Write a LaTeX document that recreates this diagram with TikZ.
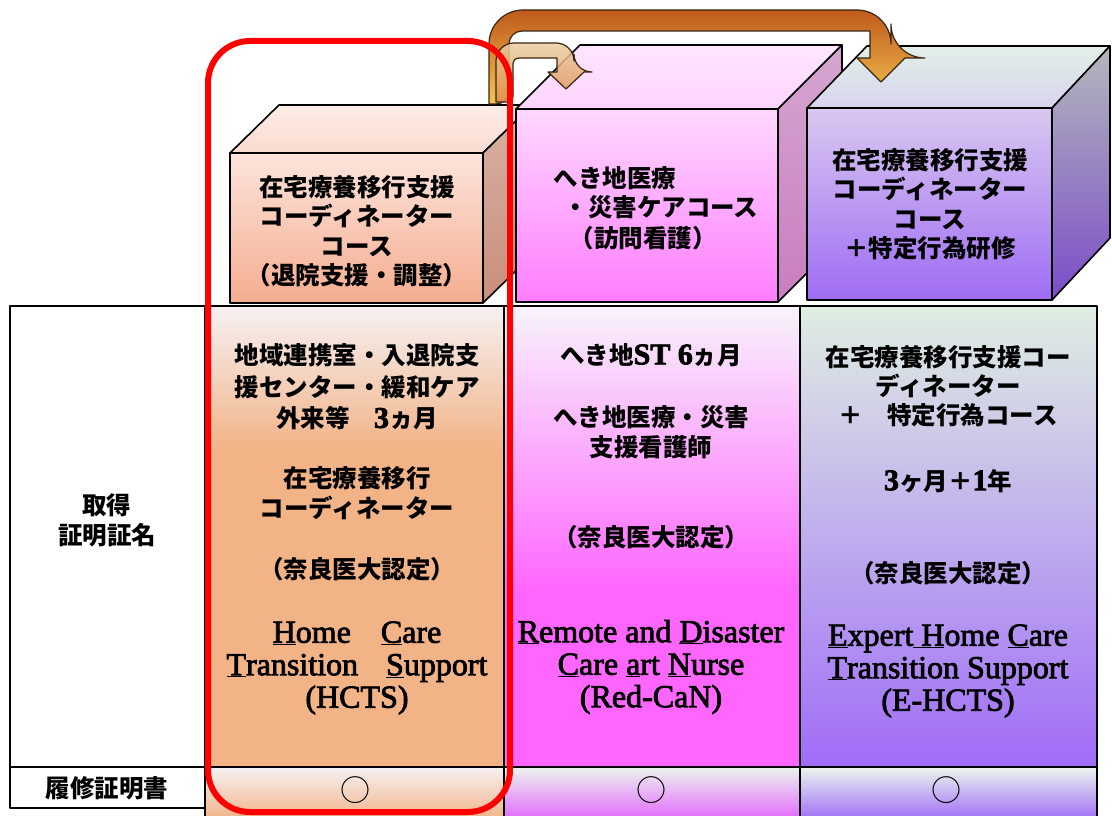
\documentclass[tikz,border=0pt]{standalone}
\usepackage{fontspec}
\setmainfont{Liberation Serif}
\newfontfamily\enfont{Liberation Serif}[FakeBold=2.5]
\newfontfamily\jp{Noto Sans CJK JP}
\newcommand\R[1]{{\enfont\fontsize{30}{30}\selectfont #1}}
\newcommand\myul[1]{\underline{#1}}
\definecolor{orgsolid}{HTML}{F2B387}
\definecolor{orgtop}{HTML}{F6F1F3}
\definecolor{pnksolid}{HTML}{FF66FF}
\definecolor{pnktop}{HTML}{F8F4FB}
\definecolor{purtop}{HTML}{DFEEE2}
\definecolor{purmid}{HTML}{C6A8F0}
\definecolor{purbot}{HTML}{A06CF8}
\definecolor{c1ft}{HTML}{FCE4DC}
\definecolor{c1fb}{HTML}{F5AD8F}
\definecolor{c1tt}{HTML}{FDEDE7}
\definecolor{c1tb}{HTML}{FADBD0}
\definecolor{c1rt}{HTML}{D8B2A6}
\definecolor{c1rb}{HTML}{C98E7A}
\definecolor{c2ft}{HTML}{FFD8FF}
\definecolor{c2fb}{HTML}{FF7DFF}
\definecolor{c2tt}{HTML}{FFE6FF}
\definecolor{c2tb}{HTML}{FFD4FF}
\definecolor{c2rt}{HTML}{D6A6D0}
\definecolor{c2rb}{HTML}{C87DC0}
\definecolor{c3ft}{HTML}{D9C8F0}
\definecolor{c3fb}{HTML}{9E6CF4}
\definecolor{c3tt}{HTML}{E2F0E8}
\definecolor{c3tb}{HTML}{D8D4EE}
\definecolor{c3rt}{HTML}{B4B8BC}
\definecolor{c3rb}{HTML}{7B4CC8}
\definecolor{arrdark}{HTML}{C05A1C}
\definecolor{arrmid}{HTML}{E0903E}
\definecolor{arrlight}{HTML}{F4C552}
\definecolor{sarrtop}{HTML}{EAD0A4}
\definecolor{sarrbot}{HTML}{E08A48}
\definecolor{redbox}{HTML}{FF0000}
\tikzset{
  edge/.style={draw=black, line width=1.6pt, line join=round},
  jptext/.style={align=center, inner sep=0pt, font=\jp\bfseries\fontsize{24.5}{29.5}\selectfont},
  jptab/.style={align=center, inner sep=0pt, font=\jp\bfseries\fontsize{24.5}{31}\selectfont},
  entext/.style={align=center, inner sep=0pt, font=\enfont\fontsize{32}{32.5}\selectfont},
  circ/.style={inner sep=0pt, font=\jp\fontsize{30}{30}\selectfont},
  arrowbig/.style={draw=black!70!brown, line width=1.2pt, line join=round, top color=arrdark, middle color=arrmid, bottom color=arrlight},
  arrowsmall/.style={draw=black!70!brown, line width=1.2pt, line join=round, top color=sarrtop, bottom color=sarrbot, fill opacity=0.85},
}
\begin{document}
\begin{tikzpicture}[x=1pt,y=-1pt]
\useasboundingbox (0,0) rectangle (1112,816);
\fill[white] (0,0) rectangle (1112,816);

% ---------- cube 1 (orange)
\path[edge, top color=c1tt, bottom color=c1tb] (230,153) -- (279,105) -- (532,105) -- (483,153) -- cycle;
\path[edge, top color=c1rt, bottom color=c1rb] (483,153) -- (532,105) -- (532,255) -- (483,303) -- cycle;
\path[edge, top color=c1ft, bottom color=c1fb] (230,153) rectangle (483,303);
% ---------- cube 2 (pink)
\path[edge, top color=c2tt, bottom color=c2tb] (516,109) -- (580,45) -- (842,45) -- (778,109) -- cycle;
\path[edge, top color=c2rt, bottom color=c2rb] (778,109) -- (842,45) -- (842,238) -- (778,302) -- cycle;
\path[edge, top color=c2ft, bottom color=c2fb] (516,109) rectangle (778,302);
% ---------- cube 3 (purple)
\path[edge, top color=c3tt, bottom color=c3tb] (807,108) -- (867,46) -- (1110,46) -- (1052,108) -- cycle;
\path[edge, top color=c3rt, bottom color=c3rb] (1052,108) -- (1110,46) -- (1110,238) -- (1052,300) -- cycle;
\path[edge, top color=c3ft, bottom color=c3fb] (807,108) rectangle (1052,300);

% ---------- table fills
\fill[top color=orgtop, bottom color=orgsolid] (205,306) rectangle (504,450);
\fill[orgsolid] (205,449) rectangle (504,767);
\fill[top color=pnktop, bottom color=pnksolid] (504,306) rectangle (800,590);
\fill[pnksolid] (504,589) rectangle (800,767);
\fill[top color=purtop, middle color=purmid, bottom color=purbot] (800,306) rectangle (1097,767);
\fill[top color=orgtop, middle color=orgsolid, bottom color=orgsolid] (205,767) rectangle (504,820);
\fill[top color=purtop!60!white, bottom color=pnksolid!70!purbot] (504,767) rectangle (800,820);
\fill[top color=purtop!60!white, bottom color=purbot] (800,767) rectangle (1097,820);
% ---------- table lines
\draw[edge] (10,306) rectangle (205,767);
\draw[edge] (10,767) rectangle (205,808);
\draw[edge] (205,306) rectangle (504,767);
\draw[edge] (504,306) rectangle (800,767);
\draw[edge] (800,306) rectangle (1097,767);
\draw[edge] (205,767) -- (205,820);
\draw[edge] (504,767) -- (504,820);
\draw[edge] (800,767) -- (800,820);
\draw[edge] (1097,767) -- (1097,820);

% ---------- arrows
\path[arrowbig] (489,104) [rounded corners=34pt] -- (489,10) -- (891,10) -- (891,58) [sharp corners] -- (905,58) -- (881,82) -- (857,58) -- (870,58) -- (870,31) [rounded corners=13pt] -- (509,31) -- (509,104) [sharp corners] -- cycle;
\path[arrowsmall] (496,102) [rounded corners=18pt] -- (496,43) -- (574,43) -- (574,72) [sharp corners] -- (584,72) -- (566,89) -- (548,72) -- (557,72) -- (557,58) [rounded corners=6pt] -- (513,58) -- (513,102) [sharp corners] -- cycle;

% ---------- cube texts
\node[jptext] (c1t) at (357,231) {在宅療養移行支援\\コーディネーター\\コース\\（退院支援・調整）};
\node[jptext] (c2a) at (615,178) {へき地医療};
\node[jptext] (c2b) at (661,207) {・災害ケアコース};
\node[jptext] (c2c) at (643,238) {（訪問看護）};
\node[jptext] (c3t) at (930,204) {在宅療養移行支援\\コーディネーター\\コース\\＋特定行為研修};

% ---------- left column
\node[jptext, font=\jp\bfseries\fontsize{24.5}{30}\selectfont] (l1) at (107,520) {取得\\証明証名};
\node[jptext] (l2) at (107,788) {履修証明書};

% ---------- column 1
\node[jptab, font=\jp\bfseries\fontsize{24.5}{31.5}\selectfont] (t1a) at (357,387) {地域連携室・入退院支\\援センター・緩和ケア\\外来等　\R{3}ヵ月};
\node[jptab, font=\jp\bfseries\fontsize{24.5}{30}\selectfont] (t1b) at (357,493) {在宅療養移行\\コーディネーター};
\node[jptab] (t1c) at (357,569) {（奈良医大認定）};
\node[entext] (t1d) at (357,668) {\myul{H}ome\hspace{30pt}\myul{C}are\\\myul{T}ransition\hspace{28pt}\myul{S}upport\\(HCTS)};

% ---------- column 2
\node[jptab] (t2a) at (651,355) {へき地\R{ST 6}ヵ月};
\node[jptab, font=\jp\bfseries\fontsize{24.5}{30}\selectfont] (t2b) at (651,432) {へき地医療・災害\\支援看護師};
\node[jptab] (t2c) at (651,537) {（奈良医大認定）};
\node[entext] (t2d) at (651,667) {\myul{R}emote and \myul{D}isaster\\\myul{C}are \myul{a}rt \myul{N}urse\\(Red-CaN)};

% ---------- column 3
\node[jptab, font=\jp\bfseries\fontsize{24.5}{29}\selectfont] (t3a) at (948,386) {在宅療養移行支援コー\\ディネーター\\＋　特定行為コース};
\node[jptab] (t3b) at (948,481) {\R{3}ヶ月＋\R{1}年};
\node[jptab] (t3c) at (948,573) {（奈良医大認定）};
\node[entext] (t3d) at (948,671) {\myul{E}xpert\myul{ H}ome \myul{C}are\\\myul{T}ransition Support\\(E-HCTS)};

% ---------- circles
\node[circ] (o1) at (355,790) {○};
\node[circ] (o2) at (651,790) {○};
\node[circ] (o3) at (946,790) {○};

% ---------- red highlight
\draw[draw=redbox, line width=6pt, rounded corners=42pt] (208,41) rectangle (510,812);
\end{tikzpicture}
\end{document}
